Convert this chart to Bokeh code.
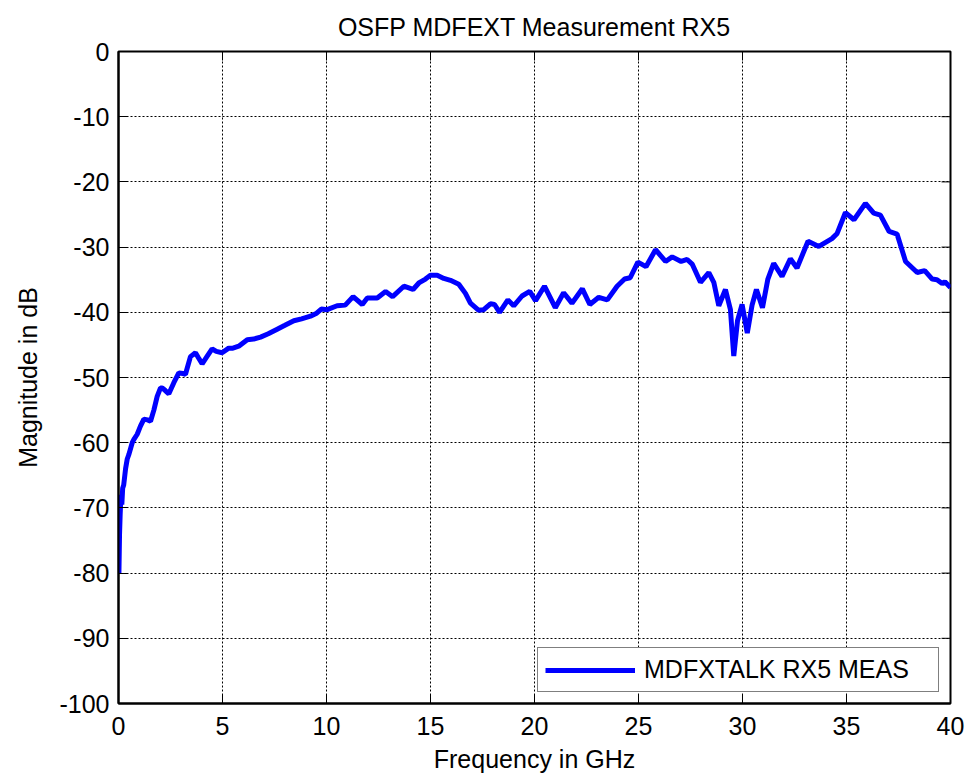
import math
from bokeh.plotting import figure
from bokeh.models import LinearAxis, FixedTicker, Range1d, Legend
from bokeh.embed import file_html
from bokeh.resources import INLINE

# ---- data ----
freq_ghz = [0.02, 0.05, 0.08, 0.12, 0.16, 0.2, 0.25, 0.34, 0.42, 0.5, 0.66, 0.74, 0.9, 1.05,
            1.22, 1.4, 1.54, 1.7, 1.86, 2.02, 2.1, 2.25, 2.42, 2.66, 2.9, 3.1, 3.22, 3.46,
            3.7, 3.85, 4.02, 4.25, 4.5, 4.7, 4.98, 5.3, 5.5, 5.78, 6.19, 6.5, 6.83, 7.2,
            7.63, 8.0, 8.43, 8.8, 9.23, 9.5, 9.75, 10.03, 10.51, 10.9, 11.28, 11.72, 11.96,
            12.44, 12.84, 13.18, 13.72, 14.16, 14.44, 14.76, 15.0, 15.32, 15.64, 15.96,
            16.36, 16.68, 16.92, 17.32, 17.56, 17.88, 18.08, 18.32, 18.72, 19.0, 19.4,
            19.77, 20.05, 20.48, 21.0, 21.4, 21.8, 22.3, 22.66, 23.09, 23.5, 23.97, 24.33,
            24.6, 24.97, 25.36, 25.82, 26.3, 26.62, 27.05, 27.34, 27.58, 27.98, 28.38,
            28.62, 28.86, 29.18, 29.42, 29.58, 29.76, 29.98, 30.23, 30.46, 30.67, 30.96,
            31.22, 31.5, 31.9, 32.3, 32.62, 33.15, 33.67, 34.3, 34.55, 34.95, 35.36, 35.91,
            36.31, 36.63, 37.05, 37.43, 37.84, 38.4, 38.76, 39.12, 39.35, 39.6, 39.73, 40.0]
mag_db = [-80.0, -74.0, -71.0, -68.0, -69.5, -67.0, -66.5, -64.0, -62.5, -61.8, -60.0, -59.5,
          -58.7, -57.5, -56.4, -56.5, -56.7, -55.0, -52.9, -51.6, -51.6, -52.0, -52.5, -50.8,
          -49.3, -49.4, -49.5, -46.8, -46.2, -47.0, -47.9, -46.8, -45.6, -46.0, -46.2, -45.5,
          -45.5, -45.2, -44.2, -44.1, -43.8, -43.3, -42.6, -42.0, -41.3, -41.0, -40.6, -40.2,
          -39.5, -39.6, -39.0, -38.9, -37.6, -38.8, -37.8, -37.8, -36.8, -37.6, -36.0, -36.5,
          -35.5, -34.9, -34.3, -34.3, -34.8, -35.1, -35.7, -37.1, -38.6, -39.7, -39.6, -38.7,
          -38.8, -40.0, -38.1, -39.0, -37.5, -36.8, -38.2, -36.0, -39.3, -37.0, -38.6, -36.4,
          -38.8, -37.7, -38.1, -36.0, -34.9, -34.7, -32.3, -33.0, -30.4, -32.2, -31.5, -32.2,
          -31.9, -32.6, -35.4, -33.9, -35.4, -39.0, -36.5, -39.6, -46.7, -41.3, -38.8, -43.2,
          -38.9, -36.5, -39.3, -34.9, -32.5, -34.5, -31.8, -33.2, -29.1, -29.9, -28.7, -27.9,
          -24.7, -25.8, -23.3, -24.8, -25.1, -27.6, -28.0, -32.2, -33.9, -33.6, -34.9, -35.0,
          -35.6, -35.3, -36.2]
x_ticks = [0, 5, 10, 15, 20, 25, 30, 35, 40]
y_ticks = [0, -10, -20, -30, -40, -50, -60, -70, -80, -90, -100]
x_min, x_max = 0, 40
y_min, y_max = -100, 0
title_text = "OSFP MDFEXT Measurement RX5"
x_label = "Frequency in GHz"
y_label = "Magnitude in dB"
series_name = "MDFXTALK RX5 MEAS"

FONT = "Liberation Sans"
FS = "25px"

p = figure(width=968, height=775, output_backend="svg", toolbar_location=None,
           x_range=Range1d(x_min, x_max), y_range=Range1d(y_min, y_max),
           min_border_left=118, min_border_right=18, min_border_top=50, min_border_bottom=71,
           x_axis_location=None, y_axis_location=None)

p.title.text = title_text
p.title.text_font = FONT
p.title.text_font_size = FS
p.title.text_font_style = "normal"
p.title.align = "center"
p.title.text_color = "black"
p.title.standoff = 21

p.outline_line_color = "black"
p.outline_line_width = 2
p.background_fill_color = "white"
p.border_fill_color = "white"


def make_axis(ticks, label):
    ax = LinearAxis(ticker=FixedTicker(ticks=ticks))
    ax.axis_line_color = "black"
    ax.axis_line_width = 2
    ax.major_tick_in = 9
    ax.major_tick_out = 0
    ax.major_tick_line_color = "black"
    ax.major_tick_line_width = 1
    ax.minor_tick_line_color = None
    ax.major_label_text_font = FONT
    ax.major_label_text_font_size = FS
    ax.major_label_text_color = "black"
    ax.major_label_overrides = {t: str(t) for t in ticks}
    ax.axis_label = label
    ax.axis_label_text_font = FONT
    ax.axis_label_text_font_size = FS
    ax.axis_label_text_font_style = "normal"
    ax.axis_label_text_color = "black"
    return ax


xb = make_axis(x_ticks, x_label)
xb.major_label_standoff = 13
xb.axis_label_standoff = 7
p.add_layout(xb, "below")

yl = make_axis(y_ticks, y_label)
yl.major_label_standoff = 9
yl.axis_label_standoff = 14
p.add_layout(yl, "left")

# inward tick marks on the top and right edges of the box
p.ray(x=x_ticks, y=[y_max] * len(x_ticks), length=9, length_units="screen",
      angle=-math.pi / 2, line_color="black", line_width=1)
p.ray(x=[x_max] * len(y_ticks), y=y_ticks, length=9, length_units="screen",
      angle=math.pi, line_color="black", line_width=1)

p.xgrid.ticker = FixedTicker(ticks=x_ticks)
p.ygrid.ticker = FixedTicker(ticks=y_ticks)
for g in (p.xgrid, p.ygrid):
    g.grid_line_color = "black"
    g.grid_line_width = 1
    g.grid_line_dash = "2 2"

r = p.line(freq_ghz, mag_db, line_color="#0000FF", line_width=5)

legend = Legend(items=[(series_name, [r])], location="bottom_right")
legend.label_text_font = FONT
legend.label_text_font_size = FS
legend.label_text_color = "black"
legend.border_line_color = "black"
legend.border_line_width = 1
legend.background_fill_color = "white"
legend.background_fill_alpha = 1
legend.margin = 11
legend.padding = 7
legend.glyph_width = 90
legend.glyph_height = 28
legend.label_height = 28
legend.label_width = 287
legend.label_standoff = 9
p.add_layout(legend, "center")

open("out.html", "w").write(file_html(p, INLINE))
